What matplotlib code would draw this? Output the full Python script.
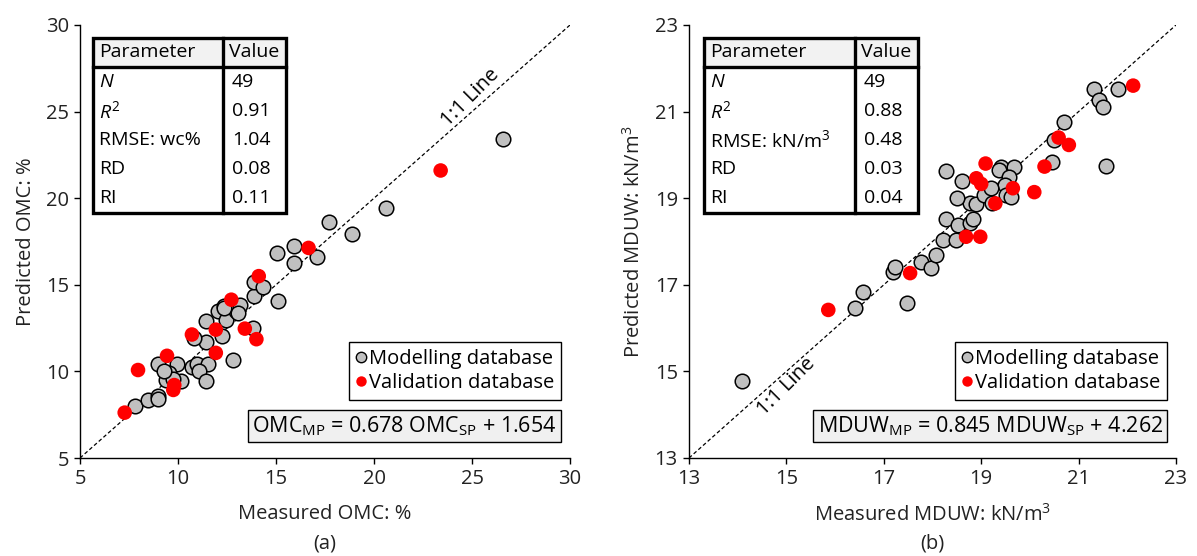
import matplotlib
matplotlib.use("Agg")
import matplotlib.pyplot as plt
from matplotlib.lines import Line2D
from matplotlib.patches import Rectangle

plt.rcParams['font.family'] = ['Open Sans', 'DejaVu Sans']
plt.rcParams['mathtext.fontset'] = 'custom'
plt.rcParams['mathtext.rm'] = 'Open Sans'
plt.rcParams['mathtext.it'] = 'Open Sans:italic'
plt.rcParams['mathtext.bf'] = 'Open Sans:bold'

# ---- (a) OMC data ----
omc_mod_x = [7.82, 8.46, 8.97, 8.97, 8.97, 9.93, 9.56, 9.39, 10.15, 9.73,
             9.31, 10.71, 10.95, 11.55, 11.08, 11.42, 11.42, 11.42, 10.83, 12.26,
             12.82, 12.06, 12.35, 12.43, 12.94, 13.18, 13.87, 13.87, 14.34, 13.83,
             15.08, 15.04, 15.90, 15.90, 17.09, 17.72, 18.90, 20.59, 26.60, 12.36,
             13.04]
omc_mod_y = [8.02, 8.37, 8.56, 8.40, 10.44, 10.44, 9.90, 9.52, 9.42, 9.56,
             10.04, 10.25, 10.44, 10.44, 10.00, 9.42, 12.90, 11.67, 11.92, 12.02,
             10.67, 13.46, 13.75, 12.98, 13.46, 13.85, 14.37, 15.19, 14.90, 12.50,
             14.08, 16.83, 16.25, 17.25, 16.58, 18.62, 17.93, 19.43, 23.40, 13.66,
             13.37]
omc_val_x = [7.28, 7.96, 9.44, 9.76, 9.81, 10.71, 11.93, 11.93, 12.72, 13.41,
             14.00, 14.12, 16.66, 23.40]
omc_val_y = [7.62, 10.08, 10.90, 8.93, 9.21, 12.13, 12.41, 11.07, 14.14, 12.47,
             11.86, 15.50, 17.13, 21.60]

# ---- (b) MDUW data ----
mduw_mod_x = [14.09, 16.41, 16.57, 17.48, 17.18, 17.24, 17.76, 17.97, 18.07, 18.22,
              18.48, 18.28, 18.53, 18.77, 18.84, 18.77, 18.89, 18.50, 19.05, 18.60,
              18.28, 19.41, 19.37, 19.68, 19.58, 19.48, 19.20, 19.51, 19.61, 19.23,
              20.45, 20.49, 20.70, 21.31, 21.80, 21.41, 21.51, 21.57]
mduw_mod_y = [14.78, 16.47, 16.84, 16.59, 17.29, 17.40, 17.52, 17.38, 17.69, 18.04,
              18.04, 18.51, 18.37, 18.42, 18.52, 18.88, 18.87, 19.01, 19.07, 19.40,
              19.63, 19.71, 19.65, 19.73, 19.50, 19.30, 19.23, 19.07, 19.03, 18.88,
              19.83, 20.34, 20.75, 21.52, 21.52, 21.27, 21.10, 19.75]
mduw_val_x = [15.86, 17.54, 18.69, 18.98, 18.90, 19.00, 19.09, 19.29, 19.65, 20.09,
              20.30, 20.59, 20.80, 22.12]
mduw_val_y = [16.42, 17.27, 18.11, 18.11, 19.46, 19.33, 19.80, 18.88, 19.23, 19.14,
              19.73, 20.40, 20.23, 21.60]

table_params_a = ['$N$', '$R^{2}$', 'RMSE: wc%', 'RD', 'RI']
table_values_a = ['49', '0.91', '1.04', '0.08', '0.11']
table_params_b = ['$N$', '$R^{2}$', 'RMSE: kN/m$^{3}$', 'RD', 'RI']
table_values_b = ['49', '0.88', '0.48', '0.03', '0.04']

eq_a = 'OMC$_{\\mathrm{MP}}$ = 0.678 OMC$_{\\mathrm{SP}}$ + 1.654'
eq_b = 'MDUW$_{\\mathrm{MP}}$ = 0.845 MDUW$_{\\mathrm{SP}}$ + 4.262'

GRAY = '#c0c0c0'
RED = '#ff0000'
FS_TAB = 14
FS_AX = 14.5


def draw_table(ax, x0, xdiv, x1, params, values):
    ytop, yhead, ybot = 0.970, 0.903, 0.566
    ax.add_patch(Rectangle((x0, yhead), x1 - x0, ytop - yhead, transform=ax.transAxes,
                           facecolor='#f2f2f2', edgecolor='none', zorder=5))
    ax.add_patch(Rectangle((x0, ybot), x1 - x0, yhead - ybot, transform=ax.transAxes,
                           facecolor='white', edgecolor='none', zorder=5))
    ax.add_patch(Rectangle((x0, ybot), x1 - x0, ytop - ybot, transform=ax.transAxes,
                           facecolor='none', edgecolor='black', lw=2.4, zorder=7))
    ax.plot([xdiv, xdiv], [ybot, ytop], transform=ax.transAxes, color='black', lw=2.4, zorder=7)
    ax.plot([x0, x1], [yhead, yhead], transform=ax.transAxes, color='black', lw=2.4, zorder=7)
    pad = 0.012
    ymid = (ytop + yhead) / 2
    ax.text(x0 + pad, ymid, 'Parameter', transform=ax.transAxes, ha='left', va='center',
            fontsize=FS_TAB, zorder=8)
    ax.text(xdiv + pad, ymid, 'Value', transform=ax.transAxes, ha='left', va='center',
            fontsize=FS_TAB, zorder=8)
    rh = (yhead - ybot) / len(params)
    for i, (p, v) in enumerate(zip(params, values)):
        yc = yhead - rh * (i + 0.5)
        ax.text(x0 + pad, yc, p, transform=ax.transAxes, ha='left', va='center',
                fontsize=FS_TAB, zorder=8)
        ax.text(xdiv + pad + 0.006, yc, v, transform=ax.transAxes, ha='left', va='center',
                fontsize=FS_TAB, zorder=8)


def style_axes(ax, lim, ticks):
    ax.set_xlim(lim)
    ax.set_ylim(lim)
    ax.set_xticks(ticks)
    ax.set_yticks(ticks)
    for s in ['top', 'right']:
        ax.spines[s].set_visible(False)
    for s in ['left', 'bottom']:
        ax.spines[s].set_linewidth(1.0)
    ax.tick_params(direction='out', length=4, width=1.0, labelsize=FS_AX, pad=4,
                   labelcolor='#222222')


fig = plt.figure(figsize=(11.97, 5.56), dpi=100)
W, H = 1197, 556
ax1 = fig.add_axes([80 / W, 1 - 458 / H, 490 / W, 433 / H])
ax2 = fig.add_axes([689 / W, 1 - 458 / H, 487 / W, 433 / H])

panels = [
    (ax1, (5, 30), [5, 10, 15, 20, 25, 30], omc_mod_x, omc_mod_y, omc_val_x, omc_val_y,
     'Measured OMC: %', 'Predicted OMC: %', table_params_a, table_values_a, eq_a, '(a)',
     (0.0265, 0.292, 0.42)),
    (ax2, (13, 23), [13, 15, 17, 19, 21, 23], mduw_mod_x, mduw_mod_y, mduw_val_x, mduw_val_y,
     'Measured MDUW: kN/m$^{3}$', 'Predicted MDUW: kN/m$^{3}$', table_params_b, table_values_b,
     eq_b, '(b)', (0.031, 0.341, 0.47)),
]

for ax, lim, ticks, mx, my, vx, vy, xl, yl, tp, tv, eq, cap, tpos in panels:
    style_axes(ax, lim, ticks)
    ax.plot(lim, lim, color='black', lw=0.9, ls=(0, (3, 2)), zorder=1)
    ax.scatter(mx, my, s=110, facecolor=GRAY, edgecolor='black', linewidth=1.1, zorder=3)
    ax.scatter(vx, vy, s=110, facecolor=RED, edgecolor='none', zorder=4)
    ax.set_xlabel(xl, fontsize=FS_AX, labelpad=11, color='#222222')
    ax.set_ylabel(yl, fontsize=FS_AX, labelpad=7, color='#222222')
    ax.text(0.5, -0.197, cap, transform=ax.transAxes, ha='center', va='center',
            fontsize=FS_AX, color='#222222')
    draw_table(ax, tpos[0], tpos[1], tpos[2], tp, tv)

    handles = [Line2D([], [], ls='none', marker='o', markersize=7.5, markerfacecolor=GRAY,
                      markeredgecolor='black', markeredgewidth=1.0),
               Line2D([], [], ls='none', marker='o', markersize=7.5, markerfacecolor=RED,
                      markeredgecolor='none')]
    leg = ax.legend(handles, ['Modelling database', 'Validation database'],
                    loc='lower right', bbox_to_anchor=(0.982, 0.134), borderaxespad=0,
                    fontsize=14.5, fancybox=False, edgecolor='black', framealpha=1,
                    handlelength=0.5, handletextpad=0.15, labelspacing=0.2, borderpad=0.35)
    leg.get_frame().set_linewidth(1.0)
    ax.text(0.973, 0.074, eq, transform=ax.transAxes, ha='right', va='center', fontsize=15.5,
            bbox=dict(boxstyle='square,pad=0.2', facecolor='#f0f0f0', edgecolor='black', lw=1.0))

# 1:1 line labels
ax1.annotate('1:1 Line', xy=(25.3, 25.3), xytext=(0, 1.5), textcoords='offset points',
             rotation=45, transform_rotates_text=True, rotation_mode='anchor',
             ha='center', va='bottom', fontsize=FS_AX)
ax2.annotate('1:1 Line', xy=(14.85, 14.85), xytext=(0, -1.5), textcoords='offset points',
             rotation=45, transform_rotates_text=True, rotation_mode='anchor',
             ha='center', va='top', fontsize=FS_AX)

fig.savefig('out.png', dpi=100)
